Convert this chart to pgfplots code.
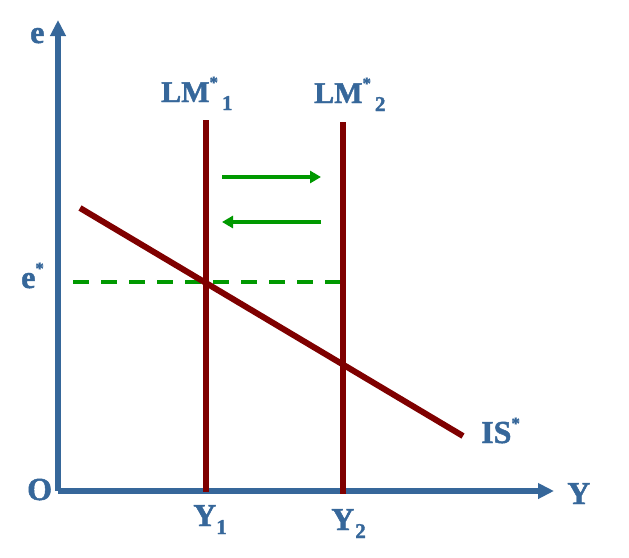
\documentclass[border=0pt]{standalone}
\usepackage{pgfplots}
\pgfplotsset{compat=1.18}
\usepackage{fontspec}
\setmainfont{Liberation Serif}
\newfontfamily\lab[FakeBold=1.5]{Liberation Serif Bold}
\usetikzlibrary{arrows.meta}
\definecolor{axblue}{RGB}{54,103,154}
\definecolor{dred}{RGB}{127,0,0}
\definecolor{dgreen}{RGB}{0,153,0}
\newcommand\st{\raisebox{14pt}{\fontsize{17}{18}\selectfont *}}
\newcommand\sub[1]{\raisebox{-8pt}{\fontsize{21}{22}\selectfont #1}}
\begin{document}
\begin{tikzpicture}
\begin{axis}[
  x=1pt, y=1pt, y dir=reverse,
  xmin=0, xmax=629, ymin=0, ymax=557,
  hide axis, clip=false,
]
\addplot[draw=none] coordinates {(0,0) (629,557)};
% dashed e*
\addplot[dgreen, line width=4pt, dash pattern=on 16pt off 12pt, dash phase=13pt] coordinates {(58,282) (343,282)};
% axes
\addplot[axblue, line width=5.5pt, -{Triangle[length=16pt,width=15pt]}] coordinates {(58,491) (58,20)};
\addplot[axblue, line width=5.5pt, -{Triangle[length=16pt,width=15pt]}] coordinates {(58,491) (554,491)};
% LM curves
\addplot[dred, line width=6pt] coordinates {(206,120) (206,492)};
\addplot[dred, line width=6pt] coordinates {(343,122) (343,494)};
% IS
\addplot[dred, line width=6pt] coordinates {(80,208) (463,436)};
% arrows
\addplot[dgreen, line width=4pt, -{Triangle[length=11pt,width=12pt]}] coordinates {(222,177) (321,177)};
\addplot[dgreen, line width=4pt, -{Triangle[length=11pt,width=12pt]}] coordinates {(321,222) (222,222)};
% labels
\begin{scope}[every node/.style={text=axblue, inner sep=0pt, anchor=base west, font=\lab\fontsize{32}{38}\selectfont}]
\node at (axis cs:30,43) {e};
\node at (axis cs:21,288) {e\st};
\node at (axis cs:27,500) {O};
\node at (axis cs:567,504) {Y};
\node[font=\lab\fontsize{30}{36}\selectfont] at (axis cs:161,102) {LM\st\kern4pt\sub{1}};
\node[font=\lab\fontsize{30}{36}\selectfont] at (axis cs:314,103) {LM\st\kern4pt\sub{2}};
\node at (axis cs:193,526) {Y\sub{1}};
\node at (axis cs:331,530) {Y\kern1pt\sub{2}};
\node at (axis cs:481,443) {IS\st};
\end{scope}
\end{axis}
\end{tikzpicture}
\end{document}
